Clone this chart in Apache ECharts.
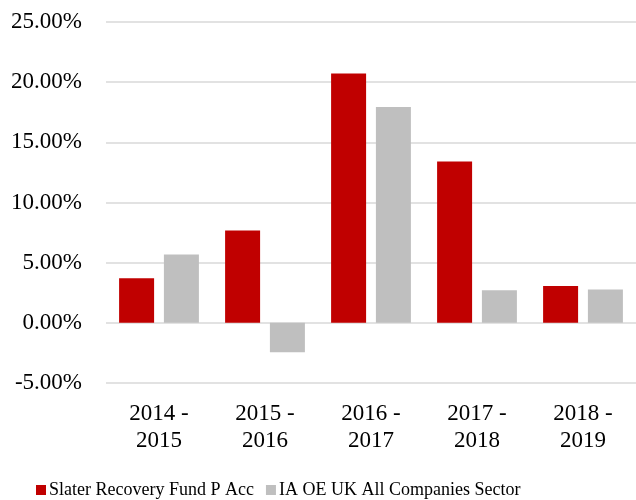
<!DOCTYPE html>
<html>
<head>
<meta charset="utf-8">
<script src="https://cdn.jsdelivr.net/npm/echarts@6/dist/echarts.min.js"></script>
<style>
  html, body { margin: 0; padding: 0; background: #fff; }
  #chart { width: 636px; height: 500px; }
</style>
</head>
<body>
<div id="chart"></div>
<script>
const categories = ['2014 -\n2015', '2015 -\n2016', '2016 -\n2017', '2017 -\n2018', '2018 -\n2019']
const fundValues = [3.70, 7.68, 20.71, 13.40, 3.07]
const sectorValues = [5.67, -2.45, 17.93, 2.71, 2.77]
const fundName = 'Slater Recovery Fund P Acc'
const sectorName = 'IA OE UK All Companies Sector'

const font = '"Liberation Serif", "Times New Roman", serif'
const chart = echarts.init(document.getElementById('chart'))

chart.setOption({
  animation: false,
  textStyle: { fontFamily: font },
  grid: {
    left: 106,
    right: 0,
    top: 22,
    bottom: 117,
    containLabel: false
  },
  legend: {
    data: [fundName, sectorName],
    bottom: 0,
    left: 31,
    padding: [5, 5, 1, 5],
    itemWidth: 10,
    itemHeight: 10,
    itemGap: 12,
    icon: 'rect',
    textStyle: { fontFamily: font, fontSize: 18, lineHeight: 18, color: '#000', padding: [0, 0, 0, -2] }
  },
  xAxis: {
    type: 'category',
    data: categories,
    axisLine: { show: false, onZero: false },
    axisTick: { show: false },
    axisLabel: {
      margin: 17,
      fontFamily: font,
      fontSize: 23,
      color: '#000',
      lineHeight: 27
    }
  },
  yAxis: {
    type: 'value',
    min: -5,
    max: 25,
    interval: 5,
    axisLine: { show: false },
    axisTick: { show: false },
    splitLine: { lineStyle: { color: '#d9d9d9', width: 1.5 } },
    axisLabel: {
      margin: 24,
      fontFamily: font,
      fontSize: 23,
      color: '#000',
      formatter: v => v.toFixed(2) + '%'
    }
  },
  series: [
    {
      name: fundName,
      type: 'bar',
      data: fundValues,
      barWidth: 35,
      barGap: '28%',
      itemStyle: { color: '#c00000' }
    },
    {
      name: sectorName,
      type: 'bar',
      data: sectorValues,
      barWidth: 35,
      itemStyle: { color: '#bfbfbf' }
    }
  ]
})
</script>
</body>
</html>
